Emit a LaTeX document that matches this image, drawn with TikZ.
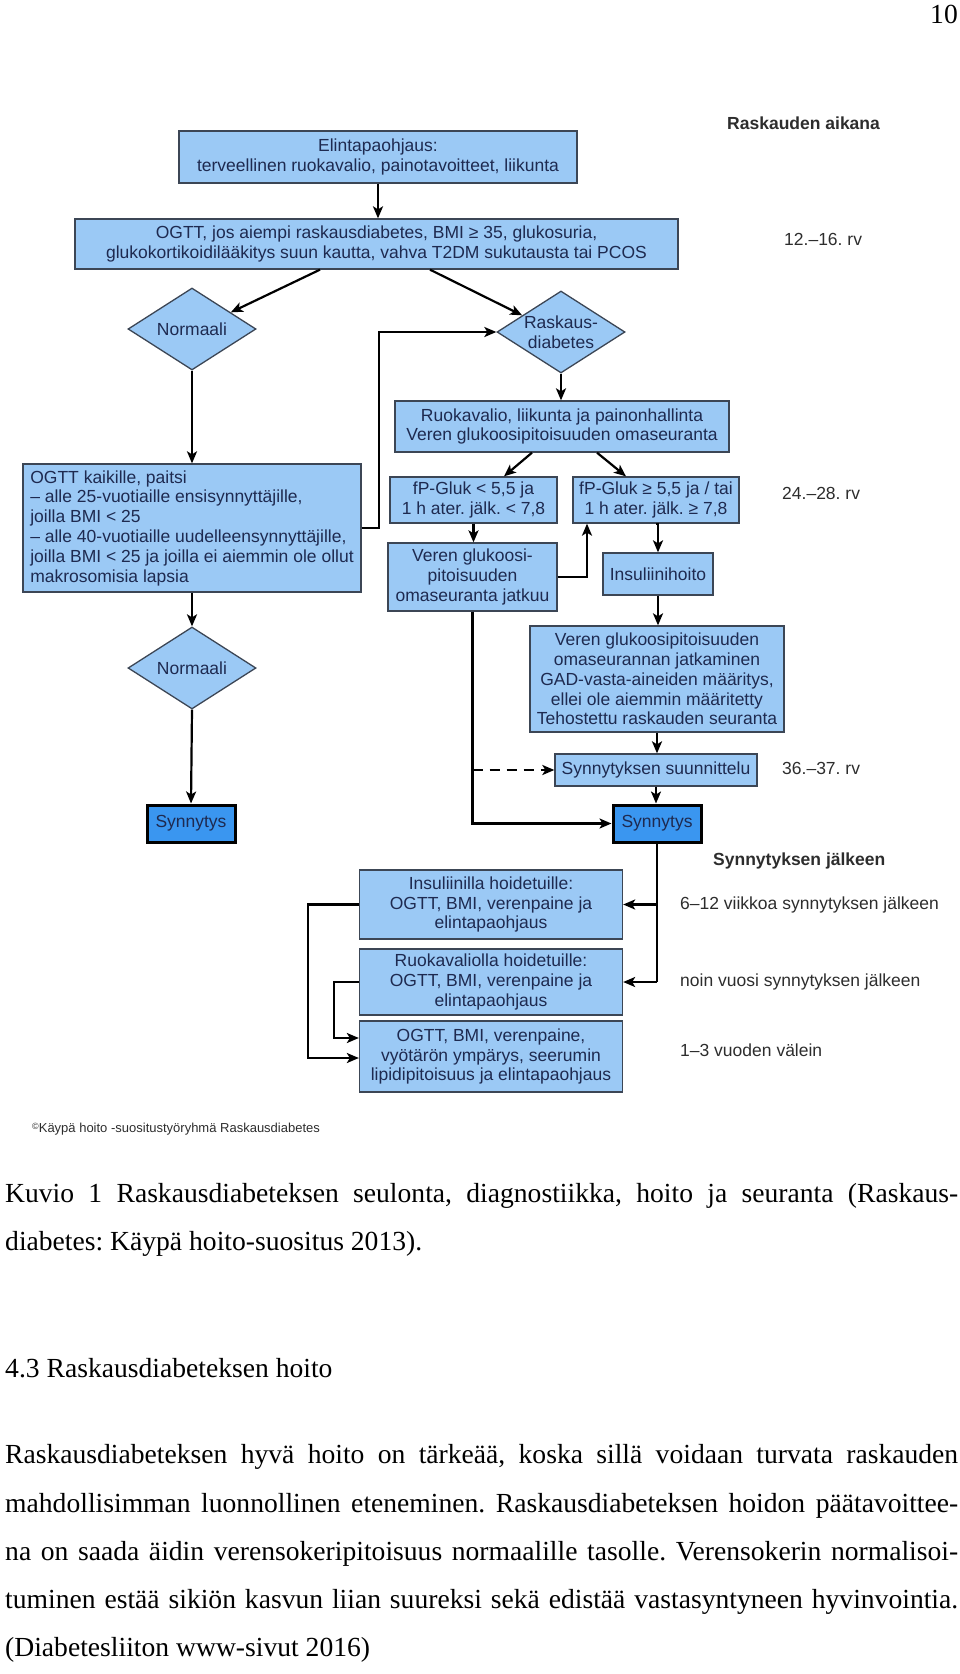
\documentclass[tikz,border=0pt]{standalone}
\usepackage{fontspec}
\setmainfont{Liberation Serif}
\newfontfamily\diasans{Liberation Sans}
\usetikzlibrary{shapes.geometric,arrows.meta,calc}
\definecolor{boxfill}{RGB}{155,201,245}
\definecolor{synfill}{RGB}{58,150,240}
\definecolor{boxline}{RGB}{60,70,85}
\definecolor{txtcol}{RGB}{30,42,80}
\definecolor{lblcol}{RGB}{45,45,45}
\frenchspacing
\begin{document}
\begin{tikzpicture}[x=1pt,y=-1pt,
  box/.style={draw=boxline, line width=1.3pt, fill=boxfill, text=txtcol,
    font=\diasans\fontsize{17.5}{19.8}\selectfont, align=center, inner sep=0pt},
  dia/.style={box, diamond, aspect=1.56, minimum width=128, minimum height=82},
  syn/.style={box, fill=synfill, draw=black, line width=3pt, minimum width=88, minimum height=37},
  arr/.style={line width=2.2pt, -{Stealth[length=12pt,width=10pt,inset=3pt]}},
  dashedarr/.style={arr, dash pattern=on 10pt off 7pt},
  lbl/.style={text=lblcol, font=\diasans\fontsize{17.5}{19.8}\selectfont, anchor=mid west, inner sep=0pt},
  lblbold/.style={lbl, font=\diasans\bfseries\fontsize{17.5}{19.8}\selectfont},
  body/.style={font=\fontsize{27.6}{33}\selectfont, anchor=mid west, inner sep=0pt}
]
\useasboundingbox (0,0) rectangle (960,1674);

% ---------- flowchart boxes ----------
\node[box, minimum width=398, minimum height=52] (b1) at (378,157)
  {Elintapaohjaus:\\terveellinen ruokavalio, painotavoitteet, liikunta};
\node[box, minimum width=603, minimum height=50] (b2) at (376.5,244)
  {OGTT, jos aiempi raskausdiabetes, BMI ≥ 35, glukosuria,\\glukokortikoidilääkitys suun kautta, vahva T2DM sukutausta tai PCOS};
\node[dia] (n1) at (192,329) {Normaali};
\node[dia] (rd) at (561,332) {Raskaus-\\diabetes};
\node[box, minimum width=334, minimum height=51] (rk) at (562,426.5)
  {Ruokavalio, liikunta ja painonhallinta\\Veren glukoosipitoisuuden omaseuranta};
\node[box, minimum width=167, minimum height=46] (fpl) at (473.5,500)
  {fP-Gluk < 5,5 ja\\1 h ater. jälk. < 7,8};
\node[box, minimum width=166, minimum height=46] (fpg) at (656,500)
  {fP-Gluk ≥ 5,5 ja / tai\\1 h ater. jälk. ≥ 7,8};
\node[box, minimum width=169, minimum height=68] (vg) at (472.5,577)
  {Veren glukoosi-\\pitoisuuden\\omaseuranta jatkuu};
\node[box, minimum width=110, minimum height=42] (ins) at (658,574) {Insuliinihoito};
\node[box, align=left, minimum width=338, minimum height=128] (ok) at (192,528)
  {OGTT kaikille, paitsi\\– alle 25-vuotiaille ensisynnyttäjille,\\joilla BMI < 25\\– alle 40-vuotiaille uudelleensynnyttäjille,\\joilla BMI < 25 ja joilla ei aiemmin ole ollut\\makrosomisia lapsia};
\node[dia] (n2) at (192,668) {Normaali};
\node[box, minimum width=254, minimum height=106] (vb) at (657,679)
  {Veren glukoosipitoisuuden\\omaseurannan jatkaminen\\GAD-vasta-aineiden määritys,\\ellei ole aiemmin määritetty\\Tehostettu raskauden seuranta};
\node[box, minimum width=202, minimum height=32] (ss) at (656,770) {Synnytyksen suunnittelu};
\node[syn] (sy1) at (191,823.5) {Synnytys};
\node[syn] (sy2) at (657,823.5) {Synnytys};
\node[box, minimum width=263, minimum height=69] (ib) at (491,904.5)
  {Insuliinilla hoidetuille:\\OGTT, BMI, verenpaine ja\\elintapaohjaus};
\node[box, minimum width=263, minimum height=66] (rb) at (491,982)
  {Ruokavaliolla hoidetuille:\\OGTT, BMI, verenpaine ja\\elintapaohjaus};
\node[box, minimum width=263, minimum height=71] (ob) at (491,1056.5)
  {OGTT, BMI, verenpaine,\\vyötärön ympärys, seerumin\\lipidipitoisuus ja elintapaohjaus};

% ---------- right-hand labels ----------
\node[lblbold] (l0) at (727,127) {Raskauden aikana};
\node[lbl] (l1) at (784,243) {12.–16. rv};
\node[lbl] (l2) at (782,497) {24.–28. rv};
\node[lbl] (l3) at (782,772) {36.–37. rv};
\node[lblbold] (l4) at (713,863) {Synnytyksen jälkeen};
\node[lbl] (l5) at (680,907) {6–12 viikkoa synnytyksen jälkeen};
\node[lbl] (l6) at (680,984) {noin vuosi synnytyksen jälkeen};
\node[lbl] (l7) at (680,1054) {1–3 vuoden välein};
\node[anchor=mid west, inner sep=0pt, text=lblcol, font=\diasans\fontsize{13}{15}\selectfont] (cr) at (32,1130)
  {\raisebox{0.45ex}{\fontsize{9}{10}\selectfont ©}Käypä hoito -suositustyöryhmä Raskausdiabetes};

% ---------- connectors ----------
\draw[arr] (b1.south) -- (b1.south |- b2.north);
\draw[arr] ([xshift=-56.5pt]b2.south) -- ($(n1.north)!0.6!(n1.east)$);
\draw[arr] ([xshift=53.5pt]b2.south) -- ($(rd.north)!0.6!(rd.west)$);
\draw[arr] (n1.south) -- (ok.north);
\draw[arr] (ok.east) -- ++(17,0) |- (rd.west);
\draw[arr] (rd.south) -- (rd.south |- rk.north);
\draw[arr] ([xshift=-30pt]rk.south) -- ([xshift=30.5pt]fpl.north);
\draw[arr] ([xshift=35pt]rk.south) -- ([xshift=-30pt]fpg.north);
\draw[arr] (fpl.south) -- (fpl.south |- vg.north);
\coordinate (c10) at (587,577);
\draw[arr] (vg.east) -- (c10) -- (c10 |- fpg.south);
\draw[arr] (fpg.south) -- (fpg.south -| ins.north) -- (ins.north);
\draw[arr] (ins.south) -- (ins.south |- vb.north);
\draw[arr] (vb.south) -- (vb.south |- ss.north);
\draw[arr] (ss.south) -- (ss.south |- sy2.north);
\draw[arr] (vg.south) |- (sy2.west);
\coordinate (c16) at (vg.south |- ss.west);
\draw[dashedarr] (c16) -- (ss.west);
\draw[arr] (ok.south) -- (n2.north);
\draw[arr] (n2.south) -- (sy1.north);
\draw[line width=2.2pt] (sy2.south) -- (sy2.south |- rb.east);
\draw[arr] (sy2.south |- ib.east) -- (ib.east);
\draw[arr] (sy2.south |- rb.east) -- (rb.east);
\draw[arr] (ib.west) -- ++(-51,0) |- ([yshift=-1.5pt]ob.west);
\draw[arr] (rb.west) -- ++(-25,0) |- ([yshift=18.5pt]ob.west);

% ---------- page text ----------
\node[body, anchor=base east] (pg) at (958,23) {10};
\node[body] (cap1) at (5,1200) {\makebox[953pt][s]{Kuvio 1 Raskausdiabeteksen seulonta, diagnostiikka, hoito ja seuranta (Raskaus-}};
\node[body] (cap2) at (5,1248) {diabetes: Käypä hoito-suositus 2013).};
\node[body] (hd) at (5,1375) {4.3 Raskausdiabeteksen hoito};
\node[body] (p1) at (5,1461) {\makebox[953pt][s]{Raskausdiabeteksen hyvä hoito on tärkeää, koska sillä voidaan turvata raskauden}};
\node[body] (p2) at (5,1510) {\makebox[953pt][s]{mahdollisimman luonnollinen eteneminen. Raskausdiabeteksen hoidon päätavoittee-}};
\node[body] (p3) at (5,1558) {\makebox[953pt][s]{na on saada äidin verensokeripitoisuus normaalille tasolle. Verensokerin normalisoi-}};
\node[body] (p4) at (5,1606) {\makebox[953pt][s]{tuminen estää sikiön kasvun liian suureksi sekä edistää vastasyntyneen hyvinvointia.}};
\node[body] (p5) at (5,1654) {(Diabetesliiton www-sivut 2016)};
\end{tikzpicture}
\end{document}
